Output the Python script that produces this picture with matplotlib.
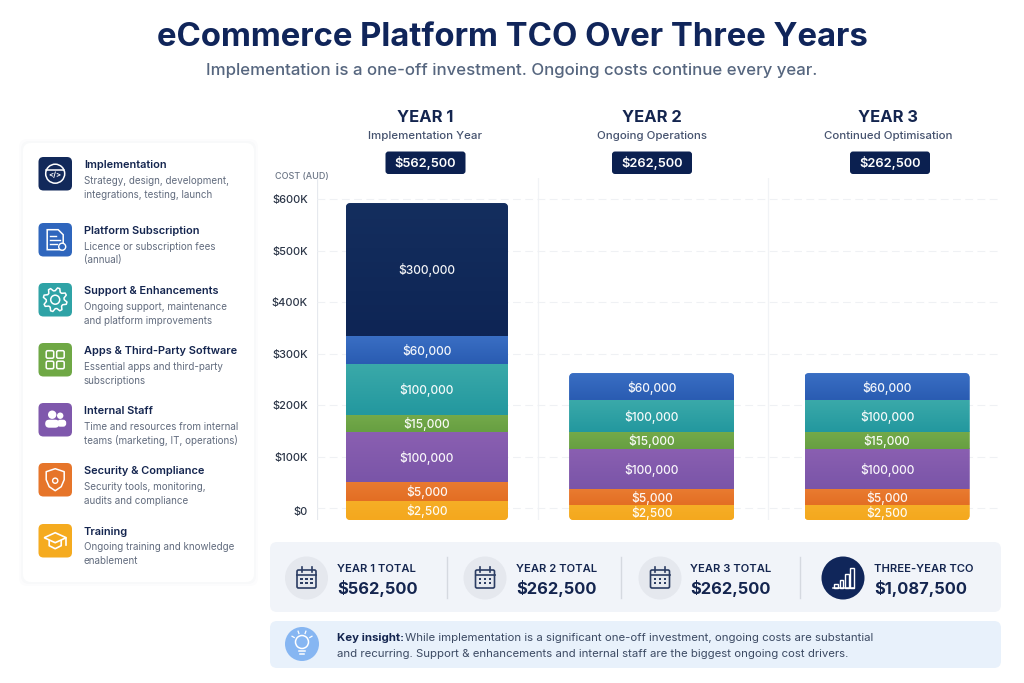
#!/usr/bin/env python3

import numpy as np
import matplotlib
matplotlib.use("Agg")
import matplotlib.pyplot as plt
from matplotlib.colors import to_rgb
from matplotlib.patches import Circle, FancyBboxPatch, Polygon, Rectangle
from matplotlib.transforms import ScaledTranslation

plt.rcParams['font.family'] = ['Inter', 'DejaVu Sans']

# Data
years = ["YEAR 1", "YEAR 2", "YEAR 3"]
year_subtitles = ["Implementation Year", "Ongoing Operations", "Continued Optimisation"]
year_totals = ["$562,500", "$262,500", "$262,500"]

# bottom to top, as drawn against the axis ($K), the printed labels are not to scale
drawn_year1 = [37, 37, 97, 33, 98, 56, 257]
drawn_year2 = [29, 31, 78, 33, 61, 53]
drawn_year3 = [29, 31, 78, 33, 61, 53]
labels_year1 = ["$2,500", "$5,000", "$100,000", "$15,000", "$100,000", "$60,000", "$300,000"]
labels_year2 = ["$2,500", "$5,000", "$100,000", "$15,000", "$100,000", "$60,000"]
labels_year3 = ["$2,500", "$5,000", "$100,000", "$15,000", "$100,000", "$60,000"]
bar_base = -23

y_ticks = [0, 100, 200, 300, 400, 500, 600]
y_tick_labels = ["$0", "$100K", "$200K", "$300K", "$400K", "$500K", "$600K"]

legend_titles = ["Implementation", "Platform Subscription", "Support & Enhancements",
                 "Apps & Third-Party Software", "Internal Staff", "Security & Compliance", "Training"]
legend_lines = [
    ["Strategy, design, development,", "integrations, testing, launch"],
    ["Licence or subscription fees", "(annual)"],
    ["Ongoing support, maintenance", "and platform improvements"],
    ["Essential apps and third-party", "subscriptions"],
    ["Time and resources from internal", "teams (marketing, IT, operations)"],
    ["Security tools, monitoring,", "audits and compliance"],
    ["Ongoing training and knowledge", "enablement"],
]
summary_labels = ["YEAR 1 TOTAL", "YEAR 2 TOTAL", "YEAR 3 TOTAL", "THREE-YEAR TCO"]
summary_values = ["$562,500", "$262,500", "$262,500", "$1,087,500"]

# Styles, layout (pixels of the 1024x683 canvas)
DARK = "#14254f"
GREY = "#626c7e"
# each pair is top and bottom colour of a segment, in stack order
seg_colors = [("#f6ae26", "#f4a81e"), ("#e97b30", "#e36e24"), ("#8a5fb1", "#7a55a8"),
              ("#74aa4a", "#679f42"), ("#3aa9a9", "#23989f"), ("#3a6fc4", "#2a5cb2"),
              ("#142e5e", "#0e2555")]
tile_colors = ["#12295a", "#2f66bd", "#2fa3a6", "#6fa845", "#7f58ac", "#e6752a", "#f5ab1f"]
tile_tops = [157, 223, 283, 343, 403, 463, 524]
header_x = [425, 652, 888]
badge_x = [425.5, 652, 890]
summary_icon_x = [306.5, 485, 660, 843]
summary_text_x = [337, 516, 690, 874]
summary_sep_x = [447, 621, 800]


def px(size):
    return size * 0.72


fig = plt.figure(figsize=(10.24, 6.83), dpi=100, facecolor="white")

bg = fig.add_axes([0, 0, 1, 1], zorder=0)
bg.set_xlim(0, 1024)
bg.set_ylim(683, 0)
bg.axis("off")


def rbox(x0, y0, x1, y1, r, color, ax=bg, **kw):
    p = FancyBboxPatch((x0, y0), x1 - x0, y1 - y0, boxstyle=f"round,pad=0,rounding_size={r}",
                       facecolor=color, edgecolor=kw.pop("edgecolor", "none"), **kw)
    ax.add_patch(p)
    return p


def outline(x0, y0, x1, y1, r, lw=1.1, color="white"):
    rbox(x0, y0, x1, y1, r, "none", edgecolor=color, linewidth=lw, zorder=4)


# Title
bg.text(512, 37.5, "eCommerce Platform TCO Over Three Years", ha="center", va="center",
        fontsize=px(32.9), fontweight="bold", color="#10255a")
bg.text(512, 71, "Implementation is a one-off investment. Ongoing costs continue every year.",
        ha="center", va="center", fontsize=px(16.85), fontweight="medium", color="#56667f")

# Legend card
for grow, alpha in [(4, 0.012), (2, 0.015)]:
    rbox(23 - grow, 143 - grow, 254 + grow, 582 + grow, 8, "#3c4a6b", alpha=alpha)
rbox(23, 143, 254, 582, 8, "white")


def icon_code(cx, cy):
    bg.add_patch(Circle((cx, cy), 9.5, fc="none", ec="white", lw=1.1, zorder=4))
    bg.plot([cx - 9, cx + 9], [cy - 3.5, cy - 3.5], color="white", lw=1.1, zorder=4)
    bg.text(cx, cy + 1.5, "</>", ha="center", va="center", color="white", fontsize=px(7.5),
            fontweight="bold", zorder=5)


def icon_doc(cx, cy):
    pts = [(cx - 8, cy - 10), (cx + 3, cy - 10), (cx + 8, cy - 5), (cx + 8, cy + 10), (cx - 8, cy + 10)]
    bg.add_patch(Polygon(pts, closed=True, fc="none", ec="white", lw=1.1, zorder=4))
    for dy, w in [(-4, 6), (0, 10), (4, 7)]:
        bg.plot([cx - 5, cx - 5 + w], [cy + dy, cy + dy], color="white", lw=1, zorder=4)
    bg.add_patch(Circle((cx + 7, cy + 7), 3.5, fc="#2f66bd", ec="white", lw=1, zorder=5))


def icon_gear(cx, cy):
    ang = np.linspace(0, 2 * np.pi, 33)[:-1] + np.pi / 16
    rad = np.array([12, 12, 9, 9] * 8)
    pts = np.c_[cx + rad * np.cos(ang), cy + rad * np.sin(ang)]
    bg.add_patch(Polygon(pts, closed=True, fc="none", ec="white", lw=1.1, joinstyle="round", zorder=4))
    bg.add_patch(Circle((cx, cy), 4.5, fc="none", ec="white", lw=1.1, zorder=4))


def icon_apps(cx, cy):
    for dx in (-9, 1.5):
        for dy in (-9, 1.5):
            outline(cx + dx, cy + dy, cx + dx + 7.5, cy + dy + 7.5, 1.5)


def icon_people(cx, cy):
    bg.add_patch(Circle((cx - 3, cy - 5), 4.2, fc="white", ec="none", zorder=4))
    bg.add_patch(Circle((cx + 5, cy - 4), 3.2, fc="white", ec="none", zorder=4))
    rbox(cx - 10, cy, cx + 4, cy + 8, 4, "white", zorder=4)
    rbox(cx + 2, cy, cx + 11, cy + 7, 3, "white", zorder=3.9)


def icon_shield(cx, cy):
    pts = [(cx, cy - 11), (cx + 9, cy - 8), (cx + 9, cy), (cx + 6, cy + 7), (cx, cy + 11),
           (cx - 6, cy + 7), (cx - 9, cy), (cx - 9, cy - 8)]
    bg.add_patch(Polygon(pts, closed=True, fc="none", ec="white", lw=1.1, joinstyle="round", zorder=4))
    bg.add_patch(Circle((cx, cy + 1), 2.6, fc="none", ec="white", lw=1, zorder=4))


def icon_cap(cx, cy):
    pts = [(cx, cy - 8), (cx + 11, cy - 3), (cx, cy + 2), (cx - 11, cy - 3)]
    bg.add_patch(Polygon(pts, closed=True, fc="none", ec="white", lw=1.2, zorder=4))
    bg.plot([cx - 6, cx - 6, cx, cx + 6, cx + 6], [cy, cy + 5, cy + 8, cy + 5, cy], color="white", lw=1.2, zorder=4)
    bg.plot([cx + 11, cx + 11], [cy - 3, cy + 4], color="white", lw=1.2, zorder=4)


def icon_calendar(cx, cy):
    rbox(cx - 9.5, cy - 8, cx + 9.5, cy + 10, 1.5, "none", edgecolor="#2c3d63", linewidth=1.2, zorder=4)
    bg.plot([cx - 9.5, cx + 9.5], [cy - 3, cy - 3], color="#2c3d63", lw=1.2, zorder=4)
    for dx in (-5, 5):
        bg.plot([cx + dx, cx + dx], [cy - 11, cy - 6], color="#2c3d63", lw=1.2, zorder=4)
    for dx in (-5, 0, 5):
        for dy in (1, 5):
            bg.add_patch(Rectangle((cx + dx - 1.2, cy + dy - 1.2), 2.4, 2.4, fc="#2c3d63", zorder=4))


def icon_bars(cx, cy):
    for dx, h in [(-9, 4), (-3.5, 8), (2, 14), (7, 20)]:
        bg.add_patch(Rectangle((cx + dx, cy + 10 - h), 3.6, h, fc="none", ec="white", lw=1, zorder=4))
    bg.plot([cx - 10, cx + 11], [cy + 10, cy + 10], color="white", lw=1.1, zorder=4)


def icon_bulb(cx, cy):
    bg.add_patch(Circle((cx, cy - 2), 6.5, fc="none", ec="white", lw=1.1, zorder=4))
    bg.plot([cx - 3, cx + 3], [cy + 7, cy + 7], color="white", lw=1.1, zorder=4)
    bg.plot([cx - 2, cx + 2], [cy + 9.5, cy + 9.5], color="white", lw=1.1, zorder=4)
    for a in np.radians([-150, -110, -70, -30]):
        bg.plot([cx + 9 * np.cos(a), cx + 11.5 * np.cos(a)], [cy - 2 + 9 * np.sin(a), cy - 2 + 11.5 * np.sin(a)],
                color="white", lw=0.9, zorder=4)


tile_icons = [icon_code, icon_doc, icon_gear, icon_apps, icon_people, icon_shield, icon_cap]
for i, title in enumerate(legend_titles):
    top = tile_tops[i]
    rbox(38.5, top, 72, top + 33.5, 5, tile_colors[i], zorder=3)
    tile_icons[i](55.2, top + 16.7)
    bg.text(84, top + 8, title, va="center", fontsize=px(11), fontweight="semibold", color=DARK)
    bg.text(84, top + 23.5, legend_lines[i][0], va="center", fontsize=px(9.8), color=GREY)
    bg.text(84, top + 37.5, legend_lines[i][1], va="center", fontsize=px(9.8), color=GREY)

# Column headers
for i, name in enumerate(years):
    bg.text(header_x[i], 117.5, name, ha="center", va="center", fontsize=px(16.5), fontweight="bold", color=DARK)
    bg.text(header_x[i], 136, year_subtitles[i], ha="center", va="center", fontsize=px(11.5),
            fontweight="medium", color="#46536f")
    rbox(badge_x[i] - 40, 151.5, badge_x[i] + 40, 174, 3, "#0b2050")
    bg.text(badge_x[i], 163.5, year_totals[i], ha="center", va="center", fontsize=px(12.9),
            fontweight="semibold", color="white")
bg.text(275, 176.5, "COST (AUD)", va="center", fontsize=px(9), fontweight="medium", color="#6c7686")

# Chart axes on top of the background, x unit = 230 px, y unit = 0.515 px per $K
ax = fig.add_axes([317 / 1024, (683 - 520) / 683, (1000 - 317) / 1024, (520 - 178) / 683], zorder=1)
ax.patch.set_alpha(0)
for s in ax.spines.values():
    s.set_visible(False)
ax.set_axisbelow(True)
ax.grid(axis="y", color="#eff1f4", lw=0.8, ls=(0, (7, 4)))
for xv, col in [(-0.478, "#e6e9ee"), (0.483, "#f1f3f6"), (1.483, "#f1f3f6")]:
    ax.axvline(xv, color=col, lw=0.9, zorder=0.5)

bar_x = [0, 0.977, 2.0]
bar_w = [0.704, 0.717, 0.717]
PX_ASPECT = (1 / 0.515) / (1 / 230)

for xpos, width, drawn, labels in zip(bar_x, bar_w, [drawn_year1, drawn_year2, drawn_year3],
                                      [labels_year1, labels_year2, labels_year3]):
    bottoms = bar_base + np.concatenate([[0], np.cumsum(drawn)[:-1]])
    bars = ax.bar(xpos, drawn, bottom=bottoms, width=width, linewidth=0,
                  color=[seg_colors[k][0] for k in range(len(drawn))], zorder=2)
    total = sum(drawn)
    stack = FancyBboxPatch((xpos - width / 2, bar_base), width, total,
                           boxstyle=f"round,pad=0,rounding_size={4.5 / 230}",
                           mutation_aspect=PX_ASPECT, fc="none", ec="none", zorder=1)
    ax.add_patch(stack)
    for k, (bar, lab) in enumerate(zip(bars, labels)):
        bar.set_clip_path(stack)
        c0, c1 = np.array(to_rgb(seg_colors[k][0])), np.array(to_rgb(seg_colors[k][1]))
        grad = np.linspace(c0, c1, 32)[:, None, :]
        im = ax.imshow(grad, extent=(bar.get_x(), bar.get_x() + width, bar.get_y(), bar.get_y() + bar.get_height()),
                       aspect="auto", origin="upper", interpolation="bilinear", zorder=2.1)
        im.set_clip_path(stack)
        ax.text(xpos, bar.get_y() + bar.get_height() / 2 - 1.5, lab, ha="center", va="center",
                color="white", fontsize=px(12), fontweight="medium", alpha=0.95, zorder=3)

ax.set_xlim(-0.478, 2.491)
ax.set_ylim(bar_base, 640.8)
ax.set_xticks([])
ax.set_yticks(y_ticks)
ax.set_yticklabels(y_tick_labels, fontsize=px(11), fontweight="medium", color="#2b3547")
ax.tick_params(axis="y", length=0, pad=6.5)
# the $0 label sits a little under its grid line
zero = ax.get_yticklabels()[0]
zero.set_transform(zero.get_transform() + ScaledTranslation(0, -3 / 100, fig.dpi_scale_trans))

# Summary strip
rbox(270, 542, 1001, 612, 7, "#f1f4f9")
for xv in summary_sep_x:
    bg.plot([xv, xv], [557, 598], color="#d5d9e0", lw=1)
for i, lab in enumerate(summary_labels):
    cx = summary_icon_x[i]
    is_total = i == 3
    bg.add_patch(Circle((cx, 578), 21.5, fc="#10265a" if is_total else "#e5e8ee", ec="none", zorder=3))
    if is_total:
        icon_bars(cx, 578)
    else:
        icon_calendar(cx, 578)
    bg.text(summary_text_x[i], 569.5, lab, va="center", fontsize=px(11.2), fontweight="semibold", color=DARK)
    bg.text(summary_text_x[i], 588.5, summary_values[i], va="center", fontsize=px(16.5), fontweight="bold", color=DARK)

# Insight strip
rbox(270, 621, 1001, 668, 7, "#e8f1fb")
bg.add_patch(Circle((302, 644), 17, fc="#86b6f2", ec="none", zorder=3))
icon_bulb(302, 644)
bg.text(337, 638, "Key insight:", va="center", fontsize=px(11.4), fontweight="bold", color=DARK)
bg.text(405, 638, "While implementation is a significant one-off investment, ongoing costs are substantial",
        va="center", fontsize=px(11.4), color="#3c4a63")
bg.text(337, 654, "and recurring. Support & enhancements and internal staff are the biggest ongoing cost drivers.",
        va="center", fontsize=px(11.4), color="#3c4a63")

fig.savefig("out.png", dpi=100)
